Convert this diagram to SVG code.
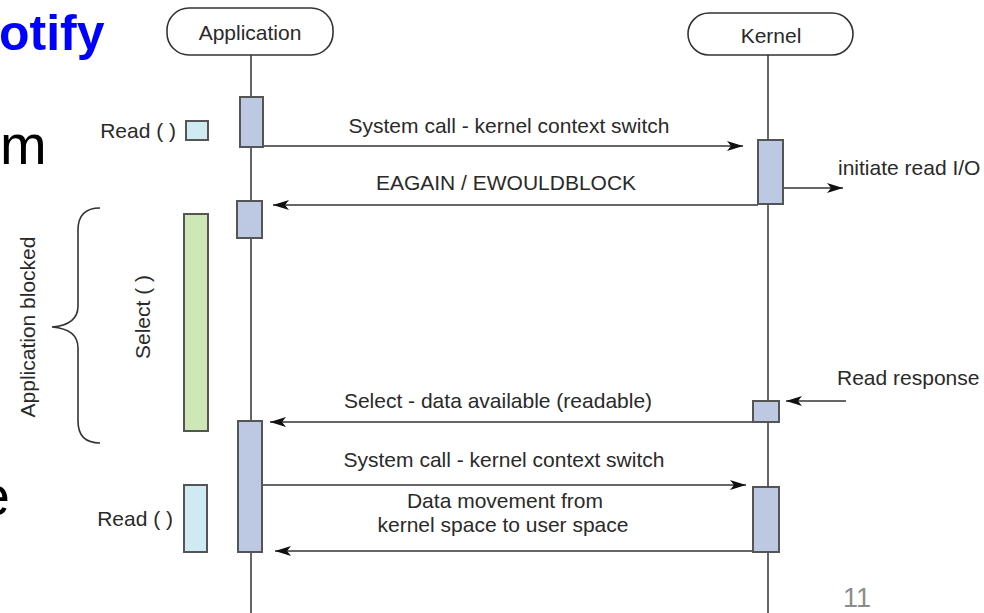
<svg xmlns="http://www.w3.org/2000/svg" width="984" height="613" viewBox="0 0 984 613">
<style>
.t{font-family:"Liberation Sans",Arial,sans-serif;font-size:21px;fill:#2a2a2a}
.hdr{fill:#fff;stroke:#333;stroke-width:1.6}
.life{stroke:#666;stroke-width:2;fill:none}
.act{fill:#bdc8e2;stroke:#555;stroke-width:2}
.msg{stroke:#666;stroke-width:2;fill:none;marker-end:url(#ah)}
</style>
<defs>
<marker id="ah" markerUnits="userSpaceOnUse" markerWidth="16" markerHeight="10" viewBox="0 0 16 10" refX="16" refY="5" orient="auto">
<path d="M0,0 L16,5 L0,10 L4,5 z" fill="#111"/>
</marker>
</defs>
<rect width="984" height="613" fill="#fff"/>
<!-- slide fragments -->
<text x="-1" y="50" font-family="Liberation Sans,Arial,sans-serif" font-weight="bold" font-size="50" fill="#0000ff">otify</text>
<text x="0" y="164" font-family="Liberation Sans,Arial,sans-serif" font-size="56" fill="#000">m</text>
<text x="10" y="515" text-anchor="end" font-family="Liberation Sans,Arial,sans-serif" font-size="56" fill="#000">e</text>
<text x="857" y="607" text-anchor="middle" font-family="Liberation Sans,Arial,sans-serif" font-size="27" fill="#8c8c8c">11</text>

<g id="lifelines">
<line class="life" x1="251" y1="55" x2="251" y2="613"/>
<line class="life" x1="768" y1="55" x2="768" y2="613"/>
</g>

<g id="application">
<rect class="hdr" x="167" y="8" width="166" height="47" rx="22"/>
<text class="t" x="250" y="40" text-anchor="middle">Application</text>
</g>
<g id="kernel">
<rect class="hdr" x="688" y="13" width="165" height="42" rx="21"/>
<text class="t" x="771" y="43" text-anchor="middle">Kernel</text>
</g>

<g id="connectors">
<line class="msg" x1="263" y1="146" x2="743" y2="146"/>
<line class="msg" x1="758" y1="205" x2="273" y2="205"/>
<line class="msg" x1="783" y1="188" x2="843" y2="188"/>
<line class="msg" x1="846" y1="401" x2="786" y2="401"/>
<line class="msg" x1="753" y1="422" x2="270" y2="422"/>
<line class="msg" x1="262" y1="485" x2="746" y2="485"/>
<line class="msg" x1="753" y1="551" x2="275" y2="551"/>
</g>

<g id="app-activations">
<rect class="act" x="240" y="97" width="23" height="50"/>
<rect class="act" x="237" y="201" width="25" height="37"/>
<rect class="act" x="238" y="421" width="24" height="131"/>
</g>
<g id="kernel-activations">
<rect class="act" x="758" y="140" width="25" height="64"/>
<rect class="act" x="753" y="401" width="26" height="21"/>
<rect class="act" x="753" y="487" width="26" height="65"/>
</g>

<g id="labels">
<text class="t" x="509" y="133" text-anchor="middle">System call - kernel context switch</text>
<text class="t" x="506" y="190" text-anchor="middle">EAGAIN / EWOULDBLOCK</text>
<text class="t" x="838" y="175">initiate read I/O</text>
<text class="t" x="837" y="385">Read response</text>
<text class="t" x="498" y="408" text-anchor="middle">Select - data available (readable)</text>
<text class="t" x="504" y="467" text-anchor="middle">System call - kernel context switch</text>
<text class="t" x="505" y="508" text-anchor="middle">Data movement from</text>
<text class="t" x="503" y="532" text-anchor="middle">kernel space to user space</text>
</g>

<g id="read1">
<text class="t" x="176" y="138" text-anchor="end">Read ( )</text>
<rect x="186" y="121" width="22" height="19" fill="#cfeaf2" stroke="#555" stroke-width="2"/>
</g>
<g id="select">
<rect x="184" y="214" width="24" height="217" fill="#cde8b6" stroke="#555" stroke-width="2"/>
<text class="t" transform="translate(150,317) rotate(-90)" text-anchor="middle">Select ( )</text>
</g>
<g id="read2">
<text class="t" x="173" y="526" text-anchor="end">Read ( )</text>
<rect x="184" y="485" width="23" height="67" fill="#cfeaf2" stroke="#555" stroke-width="2"/>
</g>
<g id="blocked">
<path d="M100,208 Q78,208 78,230 L78,306 Q78,325 52,327 Q78,329 78,348 L78,421 Q78,443 100,443" fill="none" stroke="#333" stroke-width="1.6"/>
<text class="t" transform="translate(35,327) rotate(-90)" text-anchor="middle">Application blocked</text>
</g>
</svg>
